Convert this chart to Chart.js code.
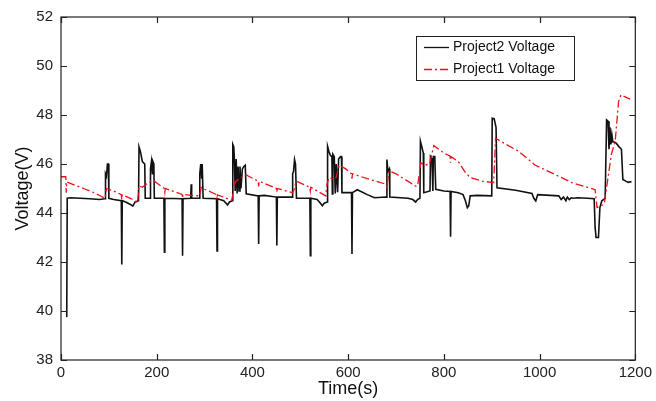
<!DOCTYPE html>
<html>
<head>
<meta charset="utf-8">
<script src="https://cdn.jsdelivr.net/npm/chart.js@4.4.1/dist/chart.umd.min.js"></script>
<style>
  html, body { margin: 0; padding: 0; background: #fff; }
  #wrap { width: 656px; height: 401px; position: relative; }
</style>
</head>
<body>
<div id="wrap"><canvas id="c" width="656" height="401"></canvas></div>
<script>
// ---- Data ----
const seriesNames = ["Project2 Voltage", "Project1 Voltage"];

const xTickValues = [0, 200, 400, 600, 800, 1000, 1200];
const yTickValues = [38, 40, 42, 44, 46, 48, 50, 52];

// Project2 (black, solid)
const p2Time = [
  12, 13, 20, 40, 60, 80, 92, 93, 95, 97, 99, 100, 110, 126, 127, 128, 135, 145, 150, 155, 162,
  163, 166, 170, 175, 176, 186, 187, 189, 191, 192, 194, 195, 215, 216, 217, 253, 254, 255,
  271, 272, 273, 289, 290, 292, 294, 295, 297, 325, 326, 327, 340, 348, 352, 358,
  359, 361, 362, 364, 366, 368, 370, 372, 374, 376, 379, 382, 385, 387, 412, 413, 414, 425, 450, 451, 452,
  483, 484, 486, 488, 490, 492, 520, 521, 522, 535, 540, 546, 550, 556,
  557, 560, 563, 566, 567, 568, 571, 573, 575, 578, 580, 584, 586, 587, 607, 608, 609, 619, 640, 655, 679,
  680, 681, 683, 686, 687, 725, 735, 741, 745, 750,
  751, 754, 757, 758, 771, 772, 775, 777, 778, 781, 783, 800, 813, 814, 815, 830, 840, 845, 849, 852, 855, 870, 900,
  901, 905, 909, 911, 950, 984, 988, 992, 996, 1040, 1045, 1050, 1055, 1058, 1062, 1066, 1070, 1080, 1100, 1114,
  1116, 1118, 1123, 1126, 1130, 1137, 1140, 1143, 1145, 1147, 1149, 1151, 1153, 1156, 1160, 1166, 1171, 1174, 1180, 1185, 1192
];
const p2Volt = [
  39.75, 44.6, 44.62, 44.6, 44.58, 44.55, 44.58, 45.6, 45.5, 46.0, 46.0, 44.6, 44.55, 44.5, 41.9, 44.5, 44.45, 44.35, 44.28, 44.45, 44.5,
  46.7, 46.5, 46.1, 46.0, 44.6, 44.6, 45.8, 46.1, 45.6, 46.1, 46.0, 44.6, 44.6, 42.4, 44.6, 44.58, 42.26, 44.58,
  44.6, 45.17, 44.6, 44.6, 45.6, 46.0, 45.4, 46.0, 44.6, 44.58, 42.45, 44.58, 44.5, 44.33, 44.45, 44.5,
  46.8, 46.7, 46.35, 44.9, 46.2, 44.8, 45.9, 44.9, 45.9, 45.0, 45.8, 45.9, 45.95, 44.78, 44.7, 42.73, 44.7, 44.72, 44.65, 42.67, 44.65,
  44.65, 45.6, 45.7, 46.18, 46.0, 44.6, 44.6, 42.26, 44.6, 44.55, 44.45, 44.3, 44.4, 44.45,
  46.72, 46.5, 46.35, 46.3, 44.78, 46.4, 46.3, 44.8, 46.0, 44.85, 46.2, 46.3, 46.3, 44.83, 44.83, 42.33, 44.83, 44.95, 44.75, 44.62, 44.65,
  44.65, 46.18, 45.7, 45.8, 44.65, 44.6, 44.55, 44.45, 44.55, 44.6,
  46.93, 46.7, 46.45, 44.83, 44.9, 46.3, 46.2, 44.9, 46.3, 46.3, 44.97, 44.9, 44.88, 43.03, 44.88, 44.83, 44.75, 44.5, 44.22, 44.3, 44.7, 44.72, 44.7,
  47.87, 47.85, 47.5, 45.03, 44.93, 44.8, 44.6, 44.49, 44.75, 44.7, 44.55, 44.65, 44.5, 44.65, 44.55, 44.62, 44.6, 44.62, 44.6, 44.58,
  43.4, 43.0, 43.0, 44.22, 44.5, 44.6, 47.8, 47.75, 46.6, 47.5, 46.8, 47.2, 46.9, 46.9, 46.85, 46.7, 46.6, 45.37, 45.3, 45.25, 45.28
];

// Project1 (red, dash-dot)
const p1Time = [
  0, 10, 11, 12, 30, 50, 70, 92, 95, 110, 126, 127, 128, 145, 160, 163, 170, 180, 188, 195,
  216, 217, 218, 253, 254, 255, 272, 290, 293, 300, 325, 326, 327, 357, 359, 362, 366, 376, 387,
  412, 413, 414, 450, 451, 452, 484, 487, 491, 520, 521, 522, 553, 556, 560, 567, 575, 581, 595,
  607, 608, 609, 640, 678, 681, 685, 700, 741, 745, 752, 760, 770, 779, 800, 813, 814, 815,
  830, 845, 855, 880, 904, 908, 930, 956, 991, 1040, 1067, 1100, 1116, 1120, 1135, 1150, 1158, 1165, 1170, 1189
];
const p1Volt = [
  45.48, 45.48, 44.83, 45.27, 45.13, 44.98, 44.82, 44.6, 45.0, 44.9, 44.75, 44.55, 44.74, 44.6, 44.42, 45.1, 45.05, 45.2, 45.3, 45.3,
  45.0, 44.85, 45.0, 44.76, 44.6, 44.76, 44.72, 44.7, 45.05, 44.97, 44.75, 44.55, 44.74, 44.52, 44.8, 45.17, 45.3, 45.45, 45.55,
  45.3, 45.08, 45.3, 45.0, 44.85, 45.0, 44.83, 44.95, 45.3, 45.05, 44.9, 45.05, 44.7, 45.2, 45.44, 45.4, 45.45, 45.95, 45.8,
  45.6, 45.4, 45.6, 45.4, 45.18, 45.05, 45.72, 45.6, 45.1, 45.1, 46.05, 45.95, 46.0, 46.75, 46.45, 46.32, 46.05, 46.3,
  46.1, 45.65, 45.45, 45.3, 45.24, 47.05, 46.8, 46.52, 45.95, 45.5, 45.24, 45.05, 44.95, 44.22, 44.36, 46.4, 46.93, 48.55, 48.82, 48.65
];

function toPoints(xs, ys) { return xs.map((x, i) => ({ x: x, y: ys[i] })); }

const BLACK = '#111111';
const RED = '#e8131b';
const RED_DASH = [8, 3, 2, 3];
const FONT = "'Liberation Sans', Arial, Helvetica, sans-serif";

// Inward tick marks on all four sides + frame + legend box
const frameTicks = {
  id: 'frameTicks',
  afterDatasetsDraw(chart) {
    const { ctx, chartArea: a, scales: { x, y } } = chart;
    ctx.save();
    ctx.strokeStyle = '#222';
    ctx.lineWidth = 1.2;
    ctx.strokeRect(a.left, a.top, a.right - a.left, a.bottom - a.top);
    const L = 6;
    ctx.beginPath();
    xTickValues.forEach(v => {
      const px = Math.round(x.getPixelForValue(v)) + 0.5;
      ctx.moveTo(px, a.bottom); ctx.lineTo(px, a.bottom - L);
      ctx.moveTo(px, a.top); ctx.lineTo(px, a.top + L);
    });
    yTickValues.forEach(v => {
      const py = Math.round(y.getPixelForValue(v)) + 0.5;
      ctx.moveTo(a.left, py); ctx.lineTo(a.left + L, py);
      ctx.moveTo(a.right, py); ctx.lineTo(a.right - L, py);
    });
    ctx.stroke();

    const bx = 416, by = 36, bw = 158, bh = 44;
    ctx.fillStyle = '#fff';
    ctx.fillRect(bx, by, bw, bh);
    ctx.lineWidth = 1;
    ctx.strokeStyle = '#222';
    ctx.strokeRect(bx + 0.5, by + 0.5, bw, bh);
    const rows = [
      { label: seriesNames[0], color: BLACK, dash: [], y: by + 11 },
      { label: seriesNames[1], color: RED, dash: RED_DASH, y: by + 33 }
    ];
    ctx.font = '14px ' + FONT;
    ctx.textBaseline = 'middle';
    rows.forEach(r => {
      ctx.beginPath();
      ctx.setLineDash(r.dash);
      ctx.strokeStyle = r.color;
      ctx.lineWidth = 1.3;
      ctx.moveTo(bx + 8, r.y + 0.5); ctx.lineTo(bx + 33, r.y + 0.5);
      ctx.stroke();
      ctx.setLineDash([]);
      ctx.fillStyle = '#111';
      ctx.fillText(r.label, bx + 37, r.y);
    });
    ctx.restore();
  }
};

new Chart(document.getElementById('c'), {
  type: 'line',
  data: {
    datasets: [
      {
        label: seriesNames[0],
        data: toPoints(p2Time, p2Volt),
        borderColor: BLACK,
        borderWidth: 1.6,
        pointRadius: 0,
        tension: 0,
        fill: false,
        order: 1
      },
      {
        label: seriesNames[1],
        data: toPoints(p1Time, p1Volt),
        borderColor: RED,
        borderWidth: 1.3,
        borderDash: RED_DASH,
        pointRadius: 0,
        tension: 0,
        fill: false,
        order: 0
      }
    ]
  },
  options: {
    responsive: false,
    animation: false,
    events: [],
    layout: { padding: { top: 15, right: 19, left: 0, bottom: 0 } },
    plugins: { legend: { display: false }, tooltip: { enabled: false }, title: { display: false } },
    scales: {
      x: {
        type: 'linear',
        min: 0, max: 1200,
        afterBuildTicks: (s) => { s.ticks = xTickValues.map(v => ({ value: v })); },
        afterFit: (s) => { s.height = 41; },
        grid: { display: false, drawTicks: false },
        border: { display: false },
        ticks: { padding: 4, color: '#222', font: { family: FONT, size: 15 }, maxRotation: 0, autoSkip: false,
                 callback: (v) => String(v) },
        title: { display: true, text: 'Time(s)', color: '#111', font: { family: FONT, size: 18 }, padding: { top: 0, bottom: 1 } }
      },
      y: {
        type: 'linear',
        min: 38, max: 52,
        afterBuildTicks: (s) => { s.ticks = yTickValues.map(v => ({ value: v })); },
        afterFit: (s) => { s.width = 61; },
        grid: { display: false, drawTicks: false },
        border: { display: false },
        ticks: { padding: 8, color: '#222', font: { family: FONT, size: 15 }, autoSkip: false,
                 callback: (v) => String(v) },
        title: { display: true, text: 'Voltage(V)', color: '#111', font: { family: FONT, size: 18 }, padding: { top: 12, bottom: 0 } }
      }
    }
  },
  plugins: [frameTicks]
});
</script>
</body>
</html>
